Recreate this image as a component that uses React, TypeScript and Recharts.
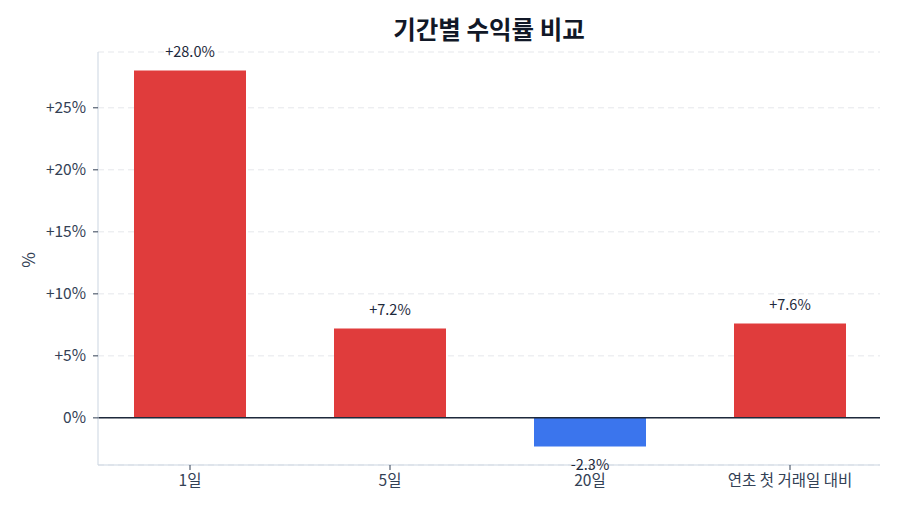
import React from "react";
import {
  BarChart,
  Bar,
  XAxis,
  YAxis,
  CartesianGrid,
  ReferenceLine,
  LabelList,
  Cell,
} from "recharts";

const periods = ["1일", "5일", "20일", "연초 첫 거래일 대비"];
const returns = [28.0, 7.2, -2.3, 7.6];
const yTicks = [0, 5, 10, 15, 20, 25];

const data = periods.map((name, i) => ({ pos: i, name, value: returns[i] }));

const FONT = "'Noto Sans CJK KR', 'Noto Sans', sans-serif";
const UP = "#e03c3c";
const DOWN = "#3b75ed";

const pct = (v: number) => (v === 0 ? "0%" : `+${v}%`);

const ValueLabel = (props: any) => {
  const { x, y, width, height, value } = props;
  const cx = x + width / 2;
  const top = Math.min(y, y + height);
  const bottom = Math.max(y, y + height);
  const text = `${value >= 0 ? "+" : ""}${value.toFixed(1)}%`;
  const ty = value >= 0 ? top - 20 : bottom + 17;
  return (
    <text
      x={cx}
      y={ty}
      textAnchor="middle"
      dominantBaseline="central"
      fontSize={14.5}
      fill="#1e293b"
      fontFamily={FONT}
    >
      {text}
    </text>
  );
};

export default function App() {
  return (
    <div
      style={{
        position: "absolute",
        left: 0,
        top: 0,
        width: 900,
        height: 514,
        background: "#fff",
        fontFamily: FONT,
      }}
    >
      <div
        style={{
          position: "absolute",
          top: 11,
          left: 0,
          width: 978,
          textAlign: "center",
          fontSize: 24.5,
          fontWeight: 700,
          color: "#111827",
        }}
      >
        기간별 수익률 비교
      </div>
      <BarChart
        width={900}
        height={514}
        data={data}
        margin={{ top: 52, right: 20, bottom: 19, left: 0 }}
      >
        <CartesianGrid
          vertical={false}
          stroke="#e5e7eb"
          strokeDasharray="6 4"
        />
        <XAxis
          type="number"
          dataKey="pos"
          domain={[-0.46, 3.45]}
          ticks={[0, 1, 2, 3]}
          allowDataOverflow
          tickFormatter={(i: number) => periods[i]}
          stroke="#cbd5e1"
          tickLine={{ stroke: "#334155" }}
          tickSize={5}
          tick={{ fill: "#334155", fontSize: 15.5, fontFamily: FONT }}
          tickMargin={5}
        />
        <YAxis
          width={98}
          domain={[-3.8, 29.5]}
          ticks={yTicks}
          allowDataOverflow
          tickFormatter={pct}
          stroke="#cbd5e1"
          tickLine={{ stroke: "#334155" }}
          tickSize={5}
          tick={{ fill: "#334155", fontSize: 15.5, fontFamily: FONT }}
          tickMargin={7}
          label={{
            content: () => (
              <text
                x={27}
                y={260}
                transform="rotate(-90 27 260)"
                textAnchor="middle"
                dominantBaseline="central"
                fontSize={17}
                fill="#334155"
                fontFamily={FONT}
              >
                %
              </text>
            ),
          }}
        />
        <ReferenceLine y={0} stroke="#1e293b" strokeWidth={1.5} />
        <Bar dataKey="value" barSize={112} isAnimationActive={false}>
          {data.map((d, i) => (
            <Cell key={i} fill={d.value >= 0 ? UP : DOWN} />
          ))}
          <LabelList dataKey="value" content={ValueLabel} />
        </Bar>
      </BarChart>
    </div>
  );
}
